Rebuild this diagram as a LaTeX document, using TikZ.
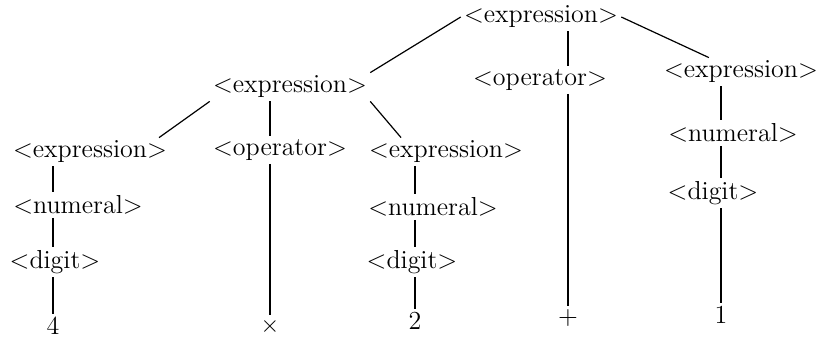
\documentclass[tikz,border=0pt]{standalone}
\usepackage{fontspec}
\usetikzlibrary{calc}
\begin{document}
\begin{tikzpicture}[x=0.5pt, y=-0.5pt,
  sym/.style={inner sep=1.5pt, font=\fontsize{13}{15}\selectfont},
  leaf/.style={inner sep=1.5pt, font=\fontsize{13}{15}\selectfont},
  edge/.style={line width=0.6pt}
]
\useasboundingbox (0,0) rectangle (826,339);
\node[sym] (root) at (541,17) {<expression>};
\node[sym] (mexp) at (290,87) {<expression>};
\node[sym] (rop) at (540,80) {<operator>};
\node[sym] (rexp) at (741,72) {<expression>};
\node[sym] (lexp) at (90,152) {<expression>};
\node[sym] (mop) at (280,150) {<operator>};
\node[sym] (mrexp) at (446,152) {<expression>};
\node[sym] (lnum) at (78,205) {<numeral>};
\node[sym] (mrnum) at (433,207) {<numeral>};
\node[sym] (rnum) at (733,133) {<numeral>};
\node[sym] (ldig) at (55,262) {<digit>};
\node[sym] (mrdig) at (412,262) {<digit>};
\node[sym] (rdig) at (713,193) {<digit>};
\node[leaf] (four) at (53,326) {4};
\node[leaf] (times) at (270,326) {$\times$};
\node[leaf] (two) at (415,321) {2};
\node[leaf] (plus) at (568,318) {+};
\node[leaf] (one) at (721,315) {1};
\draw[edge] (root.west) -- (mexp.north east);
\draw[edge] (root.south -| plus) -- (rop.north -| plus);
\draw[edge] (root.east) -- ($(rexp.north west)!0.3!(rexp.north east)$);
\draw[edge] (mexp.south west) -- ($(lexp.north west)!0.93!(lexp.north east)$);
\draw[edge] (mexp.south -| times) -- (mop.north -| times);
\draw[edge] (mexp.south east) -- ($(mrexp.north west)!0.22!(mrexp.north east)$);
\draw[edge] (lexp.south -| four) -- (lnum.north -| four);
\draw[edge] (lnum.south -| four) -- (ldig.north -| four);
\draw[edge] (ldig.south -| four) -- (four.north);
\draw[edge] (mop.south -| times) -- (times.north);
\draw[edge] (mrexp.south -| two) -- (mrnum.north -| two);
\draw[edge] (mrnum.south -| two) -- (mrdig.north -| two);
\draw[edge] (mrdig.south -| two) -- (two.north);
\draw[edge] (rop.south -| plus) -- (plus.north);
\draw[edge] (rexp.south -| one) -- (rnum.north -| one);
\draw[edge] (rnum.south -| one) -- (rdig.north -| one);
\draw[edge] (rdig.south -| one) -- (one.north);
\end{tikzpicture}
\end{document}
